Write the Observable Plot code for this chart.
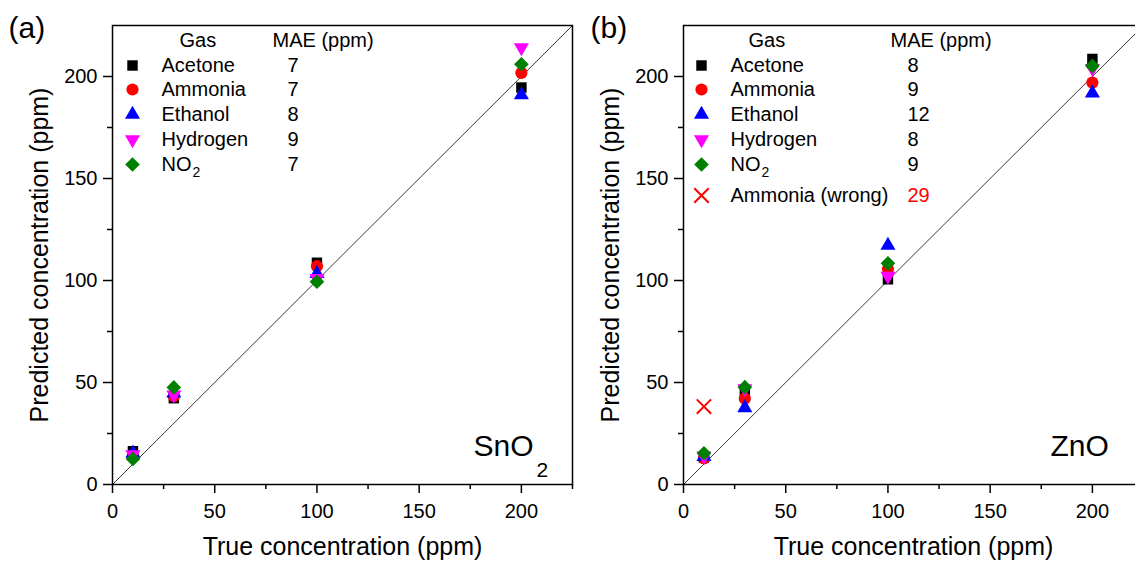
<!DOCTYPE html>
<html>
<head>
<meta charset="utf-8">
<script src="https://cdn.jsdelivr.net/npm/d3@7"></script>
<script src="https://cdn.jsdelivr.net/npm/@observablehq/plot@0.6"></script>
<style>
html, body { margin: 0; padding: 0; background: #fff; }
#wrap { position: relative; width: 1135px; height: 561px; overflow: hidden; background: #fff; }
.panel { position: absolute; top: 0; }
</style>
</head>
<body>
<div id="wrap">
  <div id="pa" class="panel" style="left:0px"></div>
  <div id="pb" class="panel" style="left:571px"></div>
</div>
<script>
// ---------- data ----------
const trueConc = [10, 30, 100, 200];
const gasNames = ["Acetone", "Ammonia", "Ethanol", "Hydrogen", "NO2"];

// SnO2 predicted concentrations (ppm)
const sno2Acetone  = [16.3, 42.3, 108.7, 194.6];
const sno2Ammonia  = [14.0, 43.3, 107.0, 201.8];
const sno2Ethanol  = [15.3, 44.8, 103.3, 191.0];
const sno2Hydrogen = [14.6, 44.0, 101.0, 214.2];
const sno2NO2      = [12.5, 47.6, 99.4, 206.0];
const maeSnO2 = [7, 7, 8, 9, 7];

// ZnO predicted concentrations (ppm)
const znoAcetone  = [13.2, 46.0, 100.6, 208.6];
const znoAmmonia  = [12.8, 42.1, 105.6, 197.0];
const znoEthanol  = [13.6, 37.6, 117.2, 191.8];
const znoHydrogen = [14.0, 47.0, 102.2, 204.0];
const znoNO2      = [15.3, 47.7, 108.4, 205.2];
const maeZnO = [8, 9, 12, 8, 9];

// ZnO, ammonia (wrong model)
const wrongLabel = "Ammonia (wrong)";
const wrongTrue = [10];
const wrongPred = [38.2];
const wrongMAE = 29;

const majorTicks = [0, 50, 100, 150, 200];
const minorXTicks = [25, 75, 125, 175, 225];
const minorYTicks = [25, 75, 125, 175];
const diagonal = [0, 225];

// ---------- styling ----------
const downTriangle = {
  draw(ctx, size) {
    const y = -Math.sqrt(size / (3 * Math.sqrt(3)));
    const s3 = Math.sqrt(3);
    ctx.moveTo(0, -2 * y);
    ctx.lineTo(-s3 * y, y);
    ctx.lineTo(s3 * y, y);
    ctx.closePath();
  }
};
const gasStyle = [
  {symbol: "square", fill: "#000000", r: 5.9},
  {symbol: "circle", fill: "#ff0000", r: 6.1},
  {symbol: "triangle", fill: "#0000ff", r: 5.6},
  {symbol: downTriangle, fill: "#ff00ff", r: 5.6},
  {symbol: "diamond2", fill: "#008000", r: 6.6}
];
const FONT = "'Liberation Sans', Arial, Helvetica, sans-serif";

function toRows(xs, ys) { return xs.map((x, i) => ({x, y: ys[i]})); }

function labelWithSub(text, opts, mainSize, subSize, subDx, subDy) {
  const m = /^(.*?)(2)$/.exec(text);
  if (m && (text === "NO2" || text === "SnO2")) {
    return [
      Plot.text([m[1]], {...opts, text: d => d, fontSize: mainSize}),
      Plot.text([m[2]], {...opts, text: d => d, fontSize: subSize, dx: opts.dx + subDx, dy: opts.dy + subDy})
    ];
  }
  return [Plot.text([text], {...opts, text: d => d, fontSize: mainSize})];
}

function makePanel({series, mae, tag, tagDx, material, matDx, leg, wrong}) {
  const marks = [];
  marks.push(Plot.line(diagonal, {x: d => d, y: d => d, stroke: "#3a3a3a", strokeWidth: 1}));
  series.forEach((vals, i) => {
    const st = gasStyle[i];
    marks.push(Plot.dot(toRows(trueConc, vals), {x: "x", y: "y", symbol: st.symbol, fill: st.fill, stroke: "none", r: st.r}));
  });
  if (wrong) {
    marks.push(Plot.dot(toRows(wrongTrue, wrongPred), {x: "x", y: "y", symbol: "times", stroke: "#ff0000", fill: "none", strokeWidth: 2, r: 6.6}));
  }
  marks.push(Plot.axisX({ticks: majorTicks, tickSize: 9, tickPadding: 10, fontSize: 20, label: null, strokeWidth: 1.5}));
  marks.push(Plot.axisX({ticks: minorXTicks, tickSize: 5, tickFormat: () => "", label: null, strokeWidth: 1.5}));
  marks.push(Plot.axisY({ticks: majorTicks, tickSize: 9, tickPadding: 6, fontSize: 20, label: null, strokeWidth: 1.5}));
  marks.push(Plot.axisY({ticks: minorYTicks, tickSize: 5, tickFormat: () => "", label: null, strokeWidth: 1.5}));
  marks.push(Plot.frame({stroke: "#000", strokeWidth: 1.5}));
  const mid = {lineAnchor: "middle", fill: "#000"};
  marks.push(Plot.text(["True concentration (ppm)"], {...mid, text: d => d, frameAnchor: "bottom", textAnchor: "middle", dy: 62, fontSize: 25}));
  marks.push(Plot.text(["Predicted concentration (ppm)"], {...mid, text: d => d, frameAnchor: "left", textAnchor: "middle", dx: -73, rotate: -90, fontSize: 25}));
  marks.push(Plot.text([tag], {...mid, text: d => d, frameAnchor: "top-left", textAnchor: "start", dx: tagDx, dy: 2.5, fontSize: 30}));
  marks.push(...labelWithSub(material, {...mid, frameAnchor: "bottom-left", textAnchor: "start", dx: matDx, dy: -38.6}, 30, 21, 63, 24));
  const base = {...mid, frameAnchor: "top-left", textAnchor: "start"};
  marks.push(Plot.text(["Gas"], {...base, text: d => d, dx: leg.gas, dy: 15, fontSize: 20}));
  marks.push(Plot.text(["MAE (ppm)"], {...base, text: d => d, dx: leg.mae, dy: 15, fontSize: 20}));
  const rowDy = [40, 64, 89, 114, 139, 170];
  gasNames.forEach((g, i) => {
    const st = gasStyle[i];
    marks.push(Plot.dot([g], {frameAnchor: "top-left", dx: leg.sym, dy: rowDy[i], symbol: st.symbol, fill: st.fill, stroke: "none", r: st.r}));
    marks.push(...labelWithSub(g, {...base, dx: leg.text, dy: rowDy[i]}, 20, 14, 31, 8));
    marks.push(Plot.text([mae[i]], {...base, text: d => String(d), dx: leg.val, dy: rowDy[i], fontSize: 20}));
  });
  if (wrong) {
    marks.push(Plot.dot([wrongLabel], {frameAnchor: "top-left", dx: leg.sym, dy: rowDy[5], symbol: "times", stroke: "#ff0000", fill: "none", strokeWidth: 2, r: 6.6}));
    marks.push(Plot.text([wrongLabel], {...base, text: d => d, dx: leg.text, dy: rowDy[5], fontSize: 20}));
    marks.push(Plot.text([wrongMAE], {...base, text: d => String(d), dx: leg.val, dy: rowDy[5], fontSize: 20, fill: "#ff0000"}));
  }
  return Plot.plot({
    width: 575,
    height: 561,
    marginLeft: 112,
    marginRight: 3,
    marginTop: 25,
    marginBottom: 77,
    x: {domain: [0, 225]},
    y: {domain: [0, 225]},
    style: {background: "transparent", maxWidth: "none", overflow: "visible", fontFamily: FONT, color: "#000"},
    marks
  });
}

document.getElementById("pa").appendChild(makePanel({
  series: [sno2Acetone, sno2Ammonia, sno2Ethanol, sno2Hydrogen, sno2NO2],
  mae: maeSnO2, tag: "(a)", tagDx: -104, material: "SnO2", matDx: 361,
  leg: {gas: 67, mae: 160, sym: 20, text: 49, val: 175}, wrong: false
}));
document.getElementById("pb").appendChild(makePanel({
  series: [znoAcetone, znoAmmonia, znoEthanol, znoHydrogen, znoNO2],
  mae: maeZnO, tag: "(b)", tagDx: -93, material: "ZnO", matDx: 367,
  leg: {gas: 65, mae: 207, sym: 18, text: 47, val: 224}, wrong: true
}));
</script>
</body>
</html>
